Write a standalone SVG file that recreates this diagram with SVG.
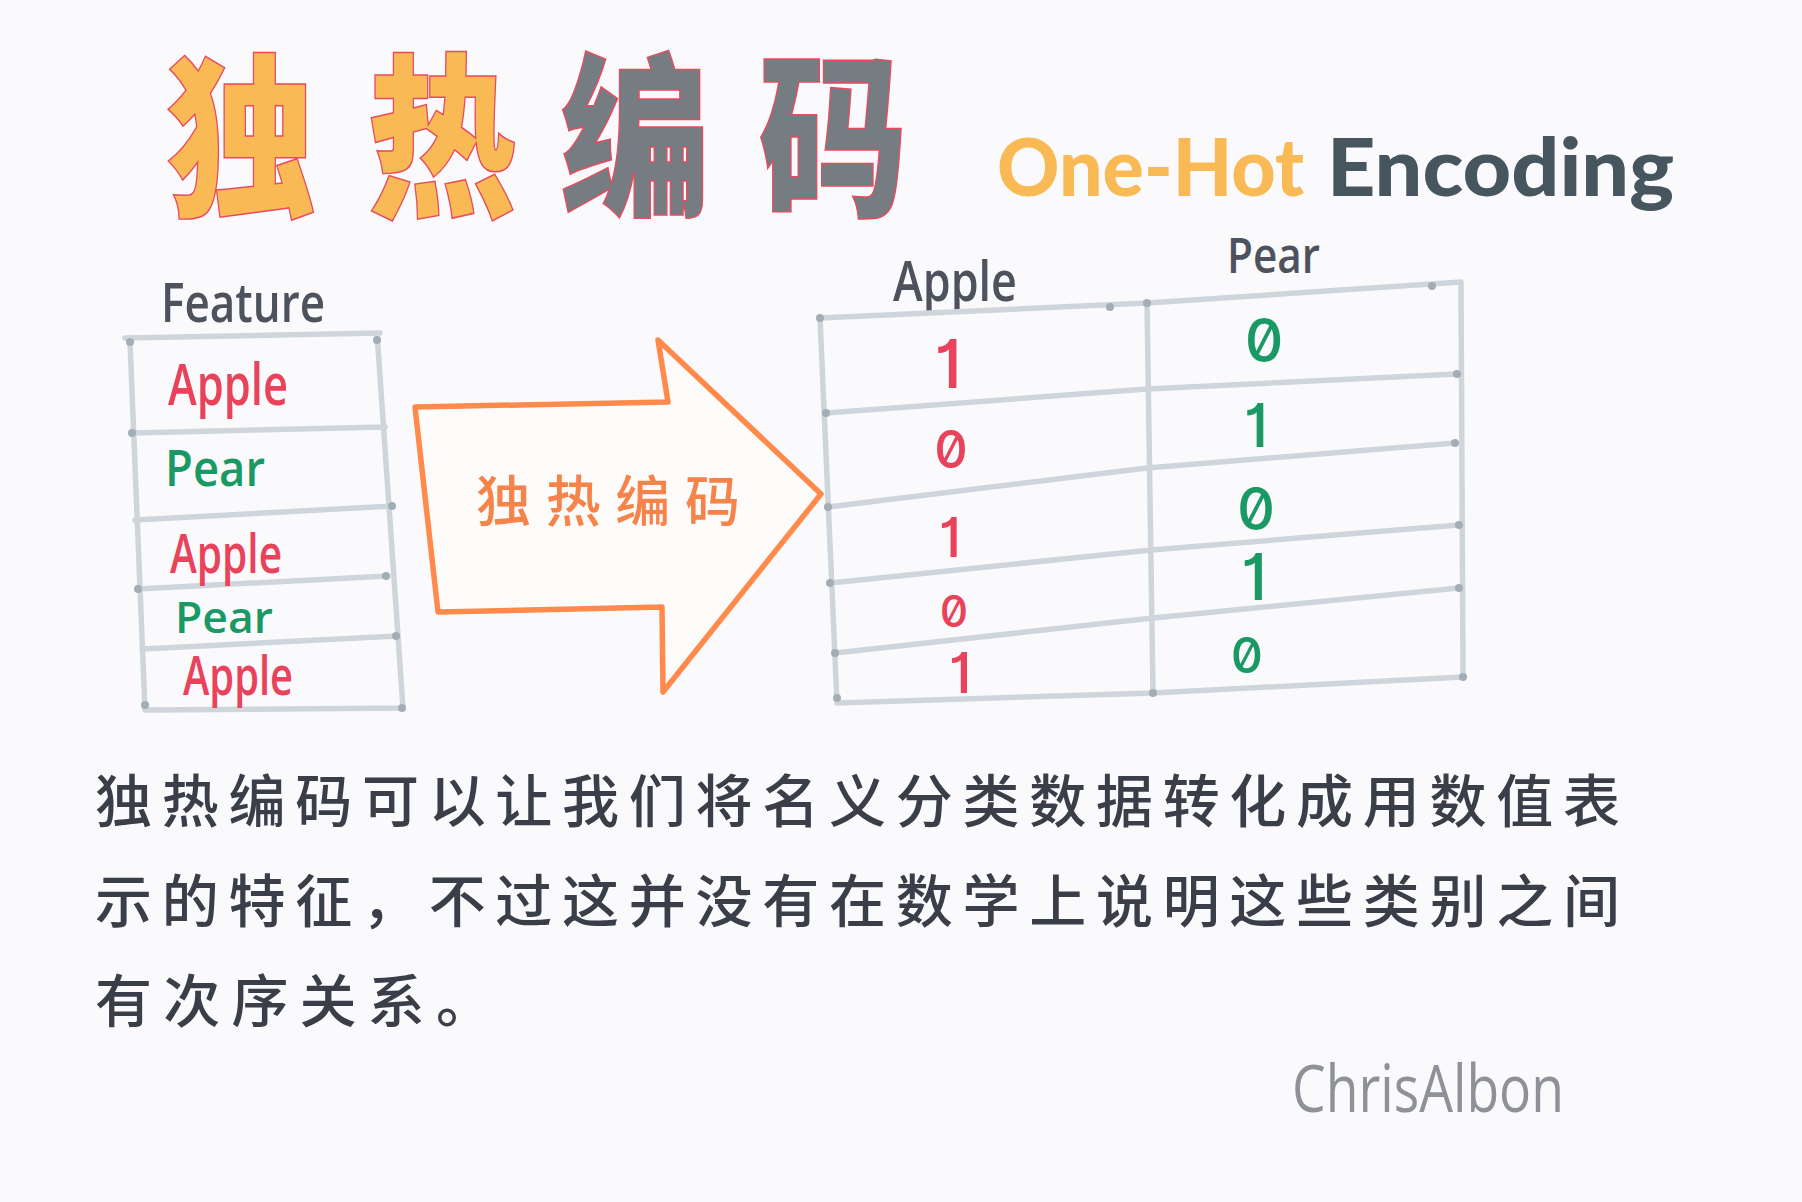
<svg xmlns="http://www.w3.org/2000/svg" width="1802" height="1202" viewBox="0 0 1802 1202">
<defs>
<style>
.grid{fill:none;stroke:#CED6DC;stroke-width:5.5;stroke-linecap:round;stroke-linejoin:round}
.dot{fill:#A3ADB5}
.title{font-family:"Noto Sans CJK SC",sans-serif;font-weight:900;font-size:176px;text-anchor:middle;stroke:#E84B5E;stroke-width:1.5}
.hand{font-family:"Open Sans","Noto Sans",sans-serif;font-weight:600}
.red{fill:#E9425B}
.green{fill:#1A9965}
.dark{fill:#4E525D}
.num{font-family:Inter,sans-serif;font-weight:500;text-anchor:middle;font-feature-settings:"zero" 1,"cv01" 1}
.para{font-family:"Noto Sans CJK SC",sans-serif;font-weight:500;font-size:57px;fill:#3A3E49}
</style>
</defs>
<rect width="1802" height="1202" fill="#FAFAFC"/>

<g id="title">
<text class="title" transform="translate(241,203) scale(0.85,1)" fill="#F9BA56">独</text>
<text class="title" transform="translate(442,203) scale(0.85,1)" fill="#F9BA56">热</text>
<text class="title" transform="translate(635,203) scale(0.85,1)" fill="#767D82">编</text>
<text class="title" transform="translate(833,203) scale(0.85,1)" fill="#767D82">码</text>
</g>

<g id="subtitle" font-family="Lato,sans-serif" font-weight="900" font-size="80">
<text x="997" y="196" fill="#F9BA56" textLength="307" lengthAdjust="spacingAndGlyphs">One-Hot</text>
<text x="1327" y="196" fill="#47555F" textLength="347" lengthAdjust="spacingAndGlyphs">Encoding</text>
</g>

<g id="feature-table">
<text class="hand dark" x="161" y="322" font-size="54" textLength="164" lengthAdjust="spacingAndGlyphs">Feature</text>
<path class="grid" d="M125,338 L380,333 M130,342 L145,710 M377,333 L403,708 M132,433 L385,427 M135,520 L393,506 M138,589 L388,576 M142,649 L398,636 M145,710 L403,708"/>
<g>
<circle class="dot" cx="130" cy="342" r="4"/><circle class="dot" cx="377" cy="340" r="4"/><circle class="dot" cx="132" cy="433" r="4"/><circle class="dot" cx="392" cy="506" r="4"/><circle class="dot" cx="138" cy="589" r="4"/><circle class="dot" cx="386" cy="576" r="4"/><circle class="dot" cx="396" cy="636" r="4"/><circle class="dot" cx="145" cy="705" r="4"/><circle class="dot" cx="402" cy="708" r="4"/>
</g>
<text class="hand red" x="168" y="405" font-size="58" textLength="120" lengthAdjust="spacingAndGlyphs">Apple</text>
<text class="hand green" x="165" y="486" font-size="50" textLength="100" lengthAdjust="spacingAndGlyphs">Pear</text>
<text class="hand red" x="170" y="573" font-size="54" textLength="112" lengthAdjust="spacingAndGlyphs">Apple</text>
<text class="hand green" x="175" y="633" font-size="44" textLength="98" lengthAdjust="spacingAndGlyphs">Pear</text>
<text class="hand red" x="183" y="695" font-size="54" textLength="110" lengthAdjust="spacingAndGlyphs">Apple</text>
</g>

<g id="arrow">
<path d="M415,407 L668,402 L658,340 L821,494 L663,692 L662,607 L438,612 Z" fill="#FEFCFB" stroke="#FF8A4B" stroke-width="5.5" stroke-linejoin="round"/>
<text x="476" y="521" font-family="'Noto Sans CJK SC',sans-serif" font-weight="500" font-size="55" fill="#F6844A" textLength="264" lengthAdjust="spacing">独热编码</text>
</g>

<g id="encoded-table">
<text class="hand dark" x="893" y="301" font-size="56" textLength="124" lengthAdjust="spacingAndGlyphs">Apple</text>
<text class="hand dark" x="1227" y="273" font-size="48" textLength="93" lengthAdjust="spacingAndGlyphs">Pear</text>
<path class="grid" d="M820,318 L1147,303 L1461,282 M820,318 L837,703 M1147,303 L1153,693 M1461,282 L1463,677 M826,413 L1147,389 L1457,374 M828,507 L1147,468 L1455,443 M830,583 L1151,550 L1459,525 M835,653 L1153,618 L1459,588 M837,703 L1153,693 L1463,677"/>
<g>
<circle class="dot" cx="820" cy="318" r="4"/><circle class="dot" cx="1110" cy="307" r="4"/><circle class="dot" cx="1147" cy="303" r="4"/><circle class="dot" cx="1432" cy="286" r="4"/><circle class="dot" cx="826" cy="413" r="4"/><circle class="dot" cx="1457" cy="374" r="4"/><circle class="dot" cx="828" cy="507" r="4"/><circle class="dot" cx="1455" cy="443" r="4"/><circle class="dot" cx="830" cy="583" r="4"/><circle class="dot" cx="1459" cy="525" r="4"/><circle class="dot" cx="835" cy="653" r="4"/><circle class="dot" cx="1459" cy="588" r="4"/><circle class="dot" cx="837" cy="698" r="4"/><circle class="dot" cx="1153" cy="693" r="4"/><circle class="dot" cx="1463" cy="677" r="4"/>
</g>
<g class="num red">
<text x="948" y="388" font-size="68">1</text>
<text x="951" y="468" font-size="52">0</text>
<text x="950" y="557" font-size="55">1</text>
<text x="954" y="627" font-size="44">0</text>
<text x="960" y="693" font-size="56">1</text>
</g>
<g class="num green">
<text x="1264" y="362" font-size="60">0</text>
<text x="1256" y="447" font-size="60">1</text>
<text x="1256" y="530" font-size="59">0</text>
<text x="1254" y="600" font-size="64">1</text>
<text x="1247" y="673" font-size="50">0</text>
</g>
</g>

<g id="description">
<text class="para" x="95" y="822" textLength="1525" lengthAdjust="spacing">独热编码可以让我们将名义分类数据转化成用数值表</text>
<text class="para" x="95" y="922" textLength="1525" lengthAdjust="spacing">示的特征，不过这并没有在数学上说明这些类别之间</text>
<text class="para" x="95" y="1022" textLength="398" lengthAdjust="spacing">有次序关系。</text>
</g>

<g id="signature">
<text x="1292" y="1112" font-family="'Open Sans',sans-serif" font-weight="500" font-size="66" fill="#8E9298" textLength="272" lengthAdjust="spacingAndGlyphs">ChrisAlbon</text>
</g>
</svg>
